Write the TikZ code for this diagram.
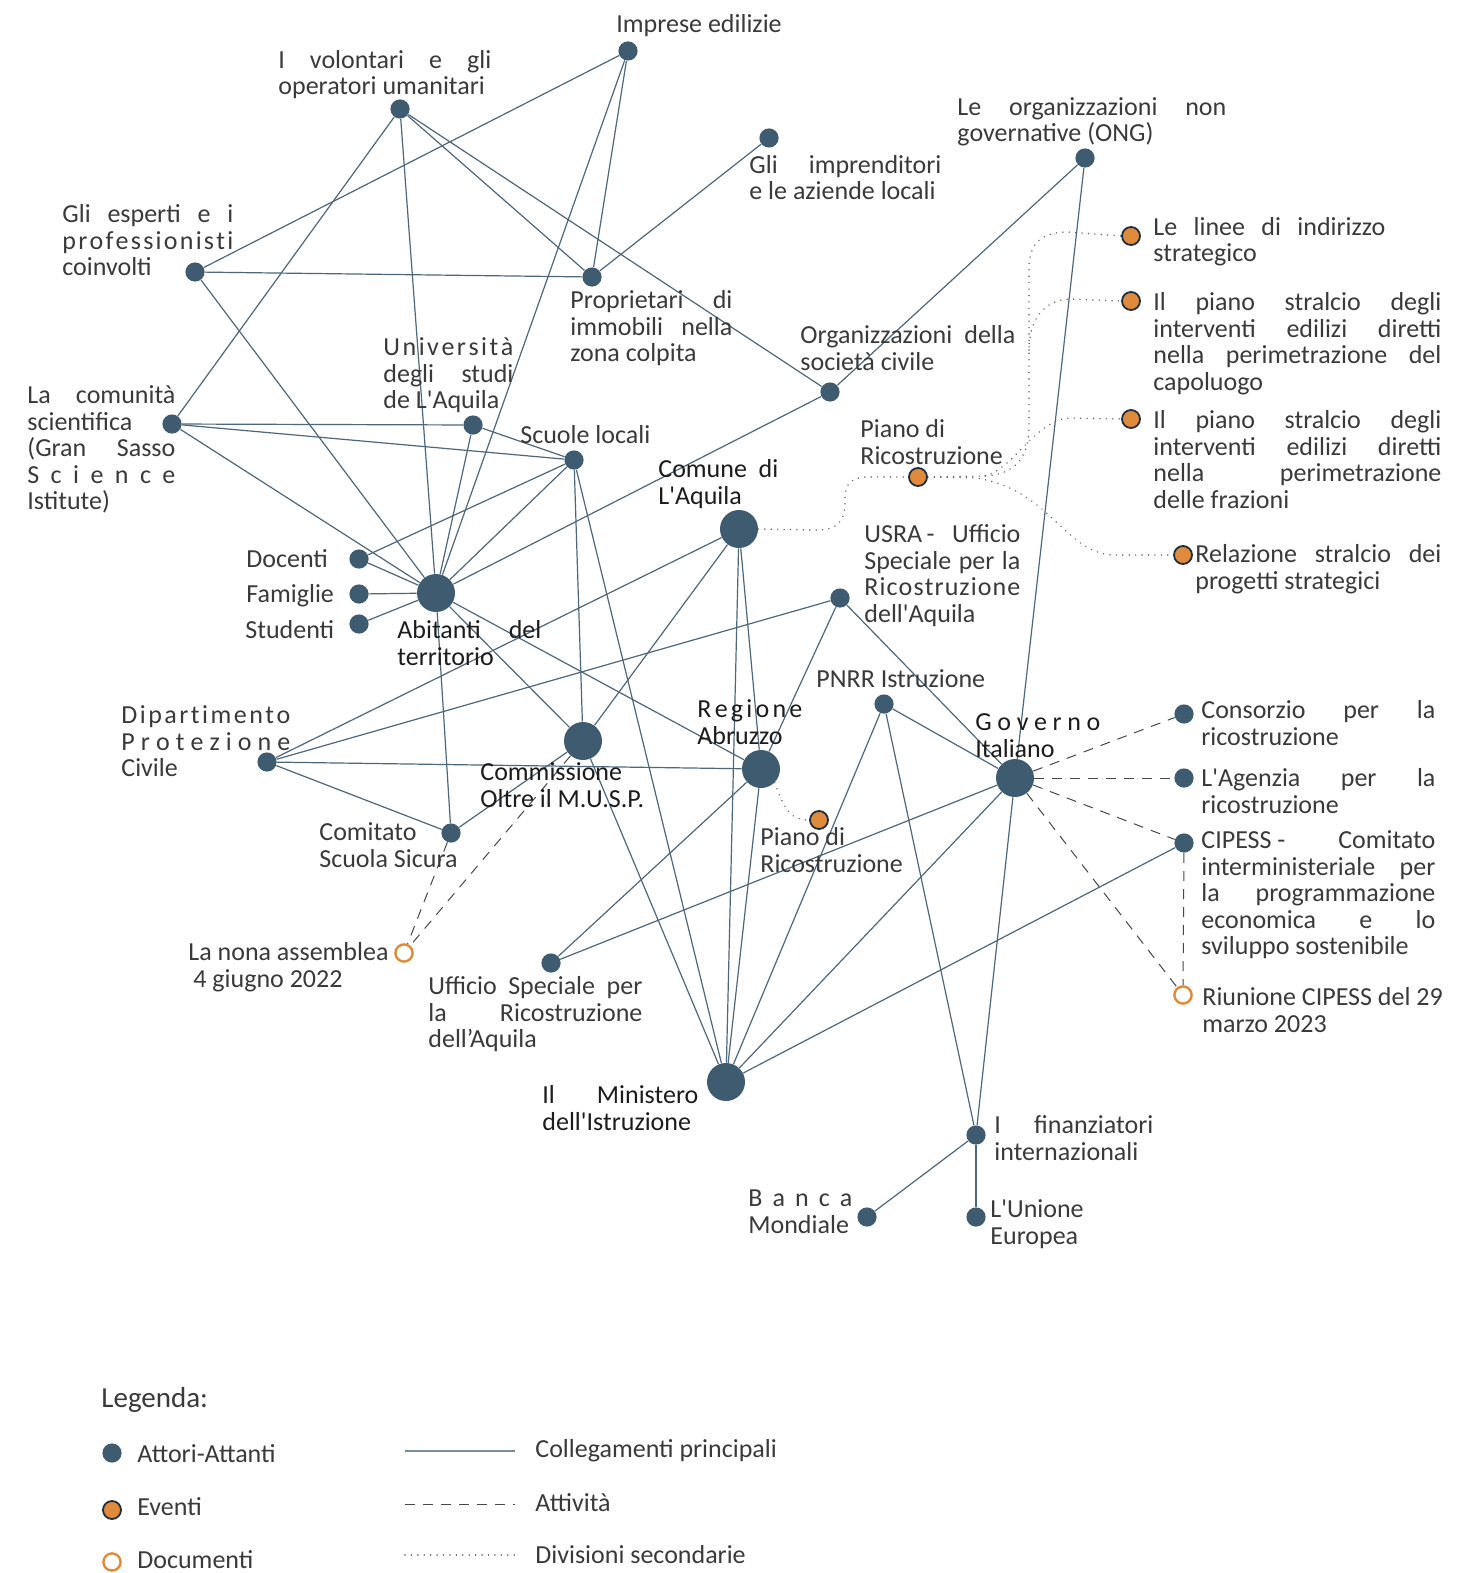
\documentclass[tikz,border=0pt]{standalone}
\usepackage{fontspec}
\setmainfont{Carlito}[Ligatures=TeXOff]
\usetikzlibrary{backgrounds}
\definecolor{nodec}{HTML}{3F5B70}
\definecolor{linec}{HTML}{4E677B}
\definecolor{orng}{HTML}{E08B3B}
\definecolor{evb}{HTML}{1E2E3C}
\definecolor{txt}{HTML}{3A3A3A}
\definecolor{txtb}{HTML}{1C1C1C}
\definecolor{dashc}{HTML}{474747}
\newcommand\jl[2]{\makebox[#1][s]{#2}}
\makeatletter
\def\ls@loop#1{\ifx#1\relax\else\hfill#1\expandafter\ls@loop\fi}
\def\ls@first#1{#1\ls@loop}
\newcommand\ls[2]{\makebox[#1][s]{\ls@first#2\relax}}
\makeatother
\newcommand\lfont{\fontsize{13pt}{13.3pt}\selectfont}
\newcommand\lbln[5][lbl]{\node[#1] (#2) at (#3,{#4-22}) {\rule{0pt}{11pt}#5};}
\begin{document}
\begin{tikzpicture}[x=0.5pt,y=-0.5pt,
 actor/.style={circle,fill=nodec,minimum size=9.6pt,inner sep=0pt},
 bignode/.style={circle,fill=nodec,minimum size=19pt,inner sep=0pt},
 evento/.style={circle,fill=orng,draw=evb,line width=0.9pt,minimum size=9pt,inner sep=0pt},
 docum/.style={circle,fill=white,draw=orng,line width=1.2pt,minimum size=8.6pt,inner sep=0pt},
 lbl/.style={anchor=north west,inner sep=0pt,align=left,font=\lfont,text=txt},
 lblb/.style={lbl,text=txtb},
 single/.style={anchor=base west,inner sep=0pt,font=\lfont,text=txt},
 conn/.style={draw=linec,line width=0.6pt},
 act/.style={draw=dashc,line width=0.5pt,dash pattern=on 5pt off 4pt},
 sec/.style={draw=dashc!85,line width=0.8pt,line cap=round,dash pattern=on 0.01pt off 3.2pt},
]
\useasboundingbox (0,0) rectangle (1477,1573);

% ---- actor nodes
\node[actor] (imp) at (628,51) {};
\node[actor] (vol) at (400,109) {};
\node[actor] (impr) at (769,138) {};
\node[actor] (ong) at (1085,158) {};
\node[actor] (esp) at (195,272) {};
\node[actor] (prop) at (592,277) {};
\node[actor] (orgsc) at (830,392) {};
\node[actor] (com) at (172,424) {};
\node[actor] (uni) at (473,425) {};
\node[actor] (scu) at (574,460) {};
\node[actor] (doc) at (359,559) {};
\node[actor] (fam) at (359,594) {};
\node[actor] (stu) at (359,624) {};
\node[bignode] (abi) at (436,593) {};
\node[bignode] (comu) at (739,529) {};
\node[actor] (usra) at (840,598) {};
\node[actor] (pnrr) at (884,704) {};
\node[actor] (dip) at (267,762) {};
\node[bignode] (cmus) at (583,741) {};
\node[bignode] (reg) at (761,769) {};
\node[bignode] (gov) at (1015,778) {};
\node[actor] (csc) at (451,833) {};
\node[actor] (uff) at (551,963) {};
\node[bignode] (min) at (726,1082) {};
\node[actor] (fin) at (976,1135) {};
\node[actor] (banca) at (867,1217) {};
\node[actor] (ue) at (976,1217) {};
\node[actor] (cons) at (1184,714) {};
\node[actor] (agz) at (1184,778) {};
\node[actor] (cip) at (1184,843) {};
\node[docum] (riu) at (1183,995) {};
\node[docum] (nona) at (404,953) {};
\node[evento] (ev1) at (1131,236) {};
\node[evento] (ev2) at (1131,301) {};
\node[evento] (ev3) at (1131,419) {};
\node[evento] (ev4) at (1183,555) {};
\node[evento] (pianoT) at (918,477) {};
\node[evento] (pianoB) at (819,820) {};

% ---- connectors
\begin{scope}[on background layer]
\fill[white] (0,0) rectangle (1477,1573);
\foreach \a/\b in {imp/esp,imp/prop,imp/abi,vol/prop,vol/orgsc,vol/com,vol/abi,
  impr/prop,esp/prop,esp/abi,ong/orgsc,ong/gov,orgsc/abi,com/uni,com/scu,com/abi,
  uni/scu,uni/abi,scu/doc,scu/abi,scu/cmus,scu/min,doc/abi,fam/abi,stu/abi,
  abi/cmus,abi/reg,abi/csc,comu/dip,comu/cmus,comu/reg,comu/min,dip/usra,dip/reg,
  dip/csc,usra/reg,usra/gov,pnrr/gov,pnrr/min,pnrr/fin,cmus/csc,cmus/min,reg/uff,
  reg/min,gov/uff,gov/min,gov/fin,cip/min,fin/banca,fin/ue}
  \draw[conn] (\a) -- (\b);
\foreach \b in {cons,agz,cip,riu} \draw[act] (gov) -- (\b);
\draw[act] (cip) -- (riu);
\draw[act] (cmus) -- (nona);
\draw[act] (csc) -- (nona);
% dotted
\draw[sec] (comu.east) -- (812,530) .. controls (840,531) and (845,520) .. (845,500)
  .. controls (845,482) and (852,477) .. (870,477) -- (pianoT.west);
\coordinate (pj) at (985,476);
\coordinate (pk) at (1029,350);
\draw[sec] (pianoT.east) -- (pj) .. controls (1018,474) and (1029,455) .. (1029,425)
  -- (1029,268) .. controls (1029,243) and (1042,232) .. (1068,232) -- (ev1.west);
\draw[sec] (pk) .. controls (1029,322) and (1042,300) .. (1070,299) -- (ev2.west);
\draw[sec] (pj) .. controls (1015,468) and (1035,420) .. (1070,418) -- (ev3.west);
\draw[sec] (pianoT.east) -- (975,478) .. controls (1050,488) and (1065,555) .. (1115,555) -- (ev4.west);
\draw[sec] (reg.south east) .. controls (785,812) and (792,820) .. (pianoB.west);
\end{scope}

% ---- labels
\lbln{Limp}{616}{32}{Imprese edilizie}
\lbln{Lvol}{278}{68}{\jl{106.5pt}{I volontari e gli}\\operatori umanitari}
\lbln{Limpr}{749}{173}{\jl{96pt}{Gli imprenditori}\\e le aziende locali}
\lbln{Long}{957}{115}{\jl{134.5pt}{Le organizzazioni non}\\governative (ONG)}
\lbln{Lesp}{62}{222}{\jl{85.5pt}{Gli esperti e i}\\\ls{85.5pt}{professionisti}\\coinvolti}
\lbln{Lprop}{570}{308}{\jl{81pt}{Proprietari di}\\\jl{81pt}{immobili nella}\\zona colpita}
\lbln{Lorgsc}{800}{343}{\jl{107.5pt}{Organizzazioni della}\\società civile}
\lbln{Luni}{383}{355}{\ls{65pt}{Università}\\\jl{65pt}{degli studi}\\de L'Aquila}
\lbln{Lscu}{520}{443}{Scuole locali}
\lbln{Lcom}{27}{403}{\jl{74pt}{La comunità}\\scientifica\\\jl{74pt}{(Gran Sasso}\\\ls{74pt}{Science}\\Istitute)}
\lbln{Ldoc}{246}{567}{Docenti}
\lbln{Lfam}{246}{602}{Famiglie}
\lbln{Lstu}{245}{638}{Studenti}
\lbln[lblb]{Labi}{397}{638}{\jl{72pt}{Abitanti del}\\territorio}
\lbln{Ldip}{121}{723}{\ls{84.5pt}{Dipartimento}\\\ls{84.5pt}{Protezione}\\Civile}
\lbln[lblb]{Lcomu}{658}{477}{\jl{60pt}{Comune di}\\L'Aquila}
\lbln{LpianoT}{860}{437}{Piano di\\Ricostruzione}
\lbln{Lusra}{864}{542}{\jl{78pt}{USRA\,-\hfill Ufficio}\\\jl{78pt}{Speciale per la}\\\ls{78pt}{Ricostruzione}\\dell'Aquila}
\lbln{Lpnrr}{816}{687}{PNRR Istruzione}
\lbln[lblb]{Lreg}{697}{717}{\ls{52.5pt}{Regione}\\Abruzzo}
\lbln[lblb]{Lgov}{975}{730}{\ls{62.5pt}{Governo}\\Italiano}
\lbln[lblb]{Lcmus}{480}{780}{Commissione\\Oltre il M.U.S.P.}
\lbln{Lcsc}{319}{840}{Comitato\\Scuola Sicura}
\lbln{Lnona}{188}{960}{La nona assemblea\\\hspace*{2.5pt}4 giugno 2022}
\lbln{Luff}{428}{994}{\jl{107pt}{Ufficio Speciale per}\\\jl{107pt}{la Ricostruzione}\\dell’Aquila}
\lbln[lblb]{Lmin}{542}{1103}{\jl{78pt}{Il Ministero}\\dell'Istruzione}
\lbln{LpianoB}{760}{845}{Piano di\\Ricostruzione}
\lbln{Lcons}{1201}{718}{\jl{117pt}{Consorzio per la}\\ricostruzione}
\lbln{Lagz}{1201}{786}{\jl{117pt}{L'Agenzia per la}\\ricostruzione}
\lbln{Lcip}{1201}{848}{\jl{117pt}{CIPESS -\hfill Comitato}\\\jl{117pt}{interministeriale per}\\\jl{117pt}{la programmazione}\\\jl{117pt}{economica e lo}\\sviluppo sostenibile}
\lbln{Lriu}{1202}{1005}{Riunione CIPESS del 29\\marzo 2023}
\lbln{Lev1}{1153}{235}{\jl{116pt}{Le linee di indirizzo}\\strategico}
\lbln{Lev2}{1153}{310}{\jl{144pt}{Il piano stralcio degli}\\\jl{144pt}{interventi edilizi diretti}\\\jl{144pt}{nella perimetrazione del}\\capoluogo}
\lbln{Lev3}{1153}{428}{\jl{144pt}{Il piano stralcio degli}\\\jl{144pt}{interventi edilizi diretti}\\\jl{144pt}{nella perimetrazione}\\delle frazioni}
\lbln{Lev4}{1195}{562}{\jl{123pt}{Relazione stralcio dei}\\progetti strategici}
\lbln{Lfin}{994}{1133}{\jl{79.5pt}{I finanziatori}\\internazionali}
\lbln{Lbanca}{748}{1206}{\ls{52pt}{Banca}\\Mondiale}
\lbln{Lue}{990}{1217}{L'Unione\\Europea}

% ---- legend
\node[single,font=\fontsize{14.5pt}{15pt}\selectfont] (Lleg) at (101,1407) {Legenda:};
\node[actor] (la) at (112,1453) {};
\node[evento] (le) at (112,1510) {};
\node[docum] (ld) at (112,1562) {};
\node[single] (Lla) at (137,1462) {Attori-Attanti};
\node[single] (Lle) at (137,1515) {Eventi};
\node[single] (Lld) at (137,1568) {Documenti};
\coordinate (l1a) at (405,1451); \coordinate (l1b) at (515,1451);
\coordinate (l2a) at (405,1504); \coordinate (l2b) at (515,1504);
\coordinate (l3a) at (405,1555); \coordinate (l3b) at (515,1555);
\draw[conn,draw=linec!75] (l1a) -- (l1b);
\draw[act] (l2a) -- (l2b);
\draw[sec] (l3a) -- (l3b);
\node[single] (Ll1) at (535,1457) {Collegamenti principali};
\node[single] (Ll2) at (535,1511) {Attività};
\node[single] (Ll3) at (535,1563) {Divisioni secondarie};
\end{tikzpicture}
\end{document}
